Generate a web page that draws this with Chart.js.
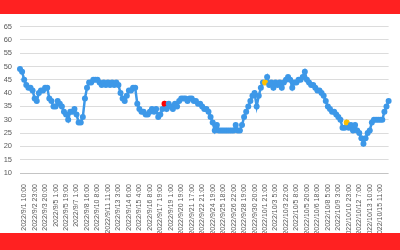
<!DOCTYPE html>
<html>
<head>
<meta charset="utf-8">
<script src="https://cdn.jsdelivr.net/npm/chart.js@4/dist/chart.umd.min.js"></script>
<style>
  html, body { margin: 0; padding: 0; background: #fff; }
  .band { height: 14px; background: #ff2121; }
  .band.bottom { height: 17px; }
  .wrap { position: relative; width: 400px; height: 219px; }
</style>
</head>
<body>
<div class="band"></div>
<div class="wrap"><canvas id="chart"></canvas></div>
<div class="band bottom"></div>
<script>
// Tick labels shown on the category axis (one every 5 points)
const tickLabels = [
  "2022/9/1 10:00", "2022/9/2 23:00", "2022/9/3 20:00", "2022/9/5 1:00", "2022/9/5 19:00",
  "2022/9/7 1:00", "2022/9/8 16:00", "2022/9/10 8:00", "2022/9/11 11:00", "2022/9/13 3:00",
  "2022/9/14 6:00", "2022/9/15 4:00", "2022/9/16 8:00", "2022/9/17 19:00", "2022/9/19 1:00",
  "2022/9/20 19:00", "2022/9/21 17:00", "2022/9/22 21:00", "2022/9/24 19:00", "2022/9/25 18:00",
  "2022/9/26 22:00", "2022/9/28 19:00", "2022/9/30 20:00", "2022/10/1 21:00", "2022/10/3 5:00",
  "2022/10/3 22:00", "2022/10/5 8:00", "2022/10/5 20:00", "2022/10/6 18:00", "2022/10/8 5:00",
  "2022/10/9 3:00", "2022/10/10 23:00", "2022/10/12 7:00", "2022/10/13 10:00", "2022/10/15 11:00"
];

// Series values
const values = [
  49, 48, 45, 43, 42, 42, 41, 38, 37, 40,
  41, 41, 42, 42, 38, 37, 35, 35, 37, 36,
  35, 33, 32, 30, 33, 33, 34, 32, 29, 29,
  31, 38, 42, 44, 44, 45, 45, 45, 44, 43,
  44, 43, 44, 43, 44, 43, 44, 43, 40, 38,
  37, 39, 41, 41, 42, 42, 36, 34, 33, 33,
  32, 32, 33, 34, 33, 34, 31, 32, 34, 36,
  34, 36, 35, 34, 36, 35, 37, 38, 38, 38,
  37, 38, 38, 37, 37, 36, 36, 35, 34, 34,
  33, 31, 29, 26, 28, 26, 26, 26, 26, 26,
  26, 26, 26, 28, 26, 26, 28, 31, 33, 35,
  37, 39, 40, 35, 39, 42, 44, 44, 46, 43,
  44, 42, 44, 43, 44, 42, 44, 45, 46, 45,
  42, 44, 44, 45, 45, 46, 48, 45, 44, 43,
  43, 42, 41, 41, 40, 39, 37, 35, 34, 33,
  33, 32, 31, 30, 27, 27, 29, 27, 28, 26,
  28, 26, 25, 23, 21, 23, 25, 26, 29, 30,
  30, 30, 30, 30, 33, 35, 37
];

const yTicks = [10, 15, 20, 25, 30, 35, 40, 45, 50, 55, 60, 65];

const redPoints = [69];
const yellowPoints = [117, 156];

const FIRST_TICK = 2;
const TICK_EVERY = 5;

const categories = values.map((v, i) => {
  const k = (i - FIRST_TICK) / TICK_EVERY;
  return Number.isInteger(k) && k >= 0 && k < tickLabels.length ? tickLabels[k] : "";
});

const BLUE = "#3d98e8";

function pointColor(ctx) {
  if (redPoints.includes(ctx.dataIndex)) return "#ff0000";
  if (yellowPoints.includes(ctx.dataIndex)) return "#ffc000";
  return BLUE;
}

const font = "'Liberation Sans', Arial, sans-serif";

new Chart(document.getElementById("chart"), {
  type: "line",
  data: {
    labels: categories,
    datasets: [{
      data: values,
      borderColor: BLUE,
      borderWidth: 2.5,
      pointRadius: 3,
      pointBorderWidth: 0,
      pointBackgroundColor: pointColor,
      tension: 0
    }]
  },
  options: {
    responsive: true,
    maintainAspectRatio: false,
    animation: false,
    layout: { padding: { left: 0, right: 3, top: 8, bottom: 0 } },
    plugins: { legend: { display: false }, tooltip: { enabled: false } },
    scales: {
      x: {
        type: "category",
        grid: { display: false },
        border: { display: false },
        ticks: {
          autoSkip: false,
          maxRotation: 90,
          minRotation: 90,
          padding: 3,
          color: "#595959",
          font: { family: font, size: 7 }
        },
        afterFit: s => { s.height = 60; }
      },
      y: {
        min: 10,
        max: 65,
        afterBuildTicks: s => { s.ticks = yTicks.map(v => ({ value: v })); },
        grid: {
          drawTicks: false,
          color: ctx => ctx.tick && ctx.tick.value === 10 ? "#c4c4c4" : "#dcdcdc"
        },
        border: { display: false },
        ticks: {
          padding: 8,
          color: "#595959",
          font: { family: font, size: 7.5 }
        },
        afterFit: s => { s.width = 20; }
      }
    }
  }
});
</script>
</body>
</html>
